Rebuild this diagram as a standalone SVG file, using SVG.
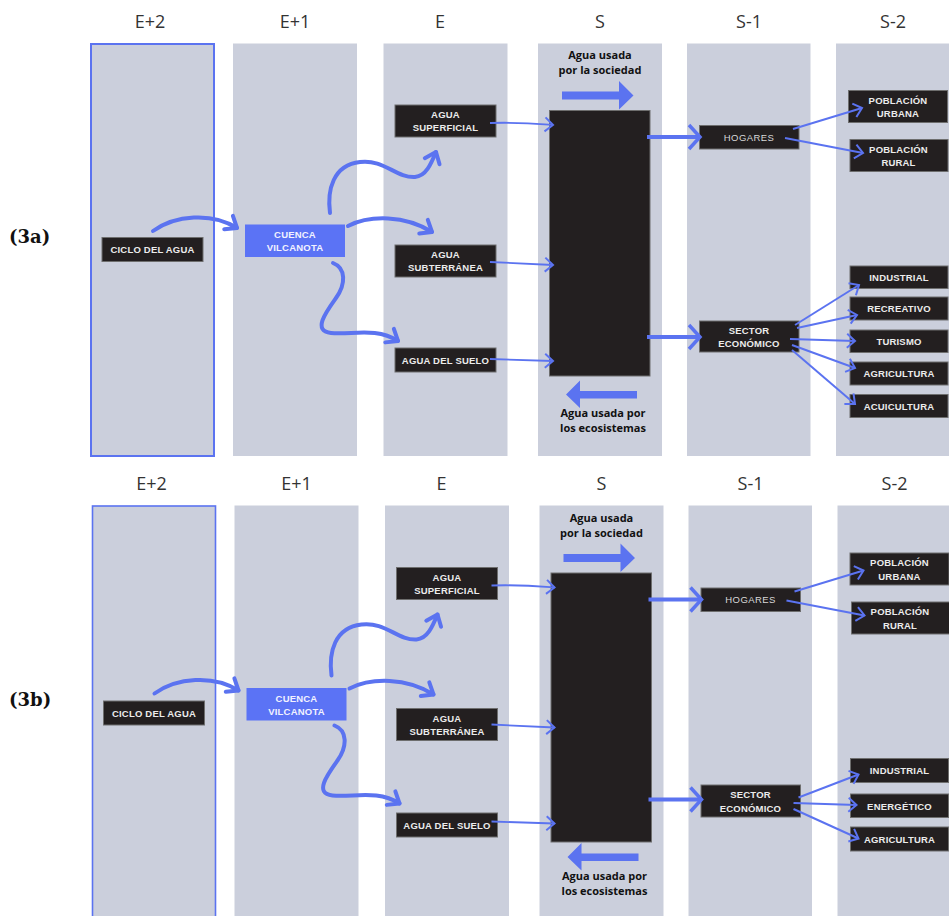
<svg xmlns="http://www.w3.org/2000/svg" width="949" height="916" viewBox="0 0 949 916">
<style>
.col{fill:#cbcfdc}
.hdr{font-family:"Open Sans","Noto Sans","Liberation Sans",sans-serif;font-size:18px;fill:#333;text-anchor:middle}
.lbl{font-family:"DejaVu Serif","Liberation Serif",serif;font-size:18px;font-weight:bold;fill:#111}
.box{fill:#231f20;stroke:#6e6e6e;stroke-width:1}
.blue{fill:#5b73f5}
.t{font-family:"Liberation Sans",Arial,sans-serif;font-size:9.5px;font-weight:bold;fill:#ececec;text-anchor:middle;letter-spacing:0.2px}
.tr{font-family:"Liberation Sans",Arial,sans-serif;font-size:9.5px;fill:#d8d8d8;text-anchor:middle;letter-spacing:0.4px}
.tw{font-family:"Liberation Sans",Arial,sans-serif;font-size:9.5px;font-weight:bold;fill:#f2f2ff;text-anchor:middle;letter-spacing:0.2px}
.note{font-family:"Open Sans","Noto Sans",sans-serif;font-size:11px;font-weight:bold;fill:#111;text-anchor:middle}
.thin{fill:none;stroke:#5b73f0;stroke-width:1.8;marker-end:url(#chevS)}
.mid{fill:none;stroke:#5b73f0;stroke-width:2;marker-end:url(#chevS)}
.thick{fill:none;stroke:#5b73f0;stroke-width:4;marker-end:url(#chevL)}
.curve{fill:none;stroke:#5b73f0;stroke-width:4;stroke-linecap:round;marker-end:url(#chevC)}
.big{fill:#5b73f0}
</style>
<defs>
<marker id="chevS" viewBox="0 0 10 16" refX="9" refY="8" markerWidth="10" markerHeight="16" markerUnits="userSpaceOnUse" orient="auto" overflow="visible">
<path d="M1,1 L9,8 L1,15" fill="none" stroke="#5b73f0" stroke-width="2" stroke-linejoin="miter"/>
</marker>
<marker id="chevL" viewBox="0 0 14 26" refX="12" refY="13" markerWidth="14" markerHeight="26" markerUnits="userSpaceOnUse" orient="auto" overflow="visible">
<path d="M1,1 L12,13 L1,25" fill="none" stroke="#5b73f0" stroke-width="3.5"/>
</marker>
<marker id="chevC" viewBox="0 0 14 20" refX="12" refY="10" markerWidth="14" markerHeight="20" markerUnits="userSpaceOnUse" orient="auto" overflow="visible">
<path d="M2,2 L12,10 L2,18" fill="none" stroke="#5b73f0" stroke-width="4" stroke-linecap="round" stroke-linejoin="round"/>
</marker>
</defs>
<rect width="949" height="916" fill="#fff"/>

<!-- Panel 3a -->
<g id="panel-3a">
<g id="a-columns">
<rect class="col" x="91" y="44" width="123" height="412" stroke="#5b73f0" stroke-width="2"/>
<rect class="col" x="233" y="43.5" width="124" height="412.5"/>
<rect class="col" x="383.5" y="43.5" width="124" height="412.5"/>
<rect class="col" x="538" y="43.5" width="124" height="412.5"/>
<rect class="col" x="687" y="43.5" width="123.5" height="412.5"/>
<rect class="col" x="836" y="43.5" width="113" height="412.5"/>
</g>
<g id="a-headers">
<text class="hdr" x="150" y="28">E+2</text>
<text class="hdr" x="295" y="28">E+1</text>
<text class="hdr" x="440" y="28">E</text>
<text class="hdr" x="600" y="28">S</text>
<text class="hdr" x="749" y="28">S-1</text>
<text class="hdr" x="893" y="28">S-2</text>
</g>
<text class="lbl" x="9" y="243">(3a)</text>
<g id="a-notes">
<text class="note" x="600" y="59">Agua usada</text>
<text class="note" x="600" y="74">por la sociedad</text>
<polygon class="big" points="562,91.5 619,91.5 619,81 633.5,95.5 619,109.5 619,99.5 562,99.5"/>
<polygon class="big" points="637,391 580,391 580,380.5 566,394.5 580,408 580,398.5 637,398.5"/>
<text class="note" x="603" y="417">Agua usada por</text>
<text class="note" x="603" y="432">los ecosistemas</text>
</g>
<g id="a-ciclo"><rect class="box" x="102" y="237.5" width="101" height="24"/><text class="t" x="152.5" y="253">CICLO DEL AGUA</text></g>
<g id="a-cuenca"><rect class="blue" x="245" y="224.5" width="100" height="32.5"/><text class="tw" x="295" y="238">CUENCA</text><text class="tw" x="295" y="251">VILCANOTA</text></g>
<g id="a-superficial"><rect class="box" x="395" y="105" width="101" height="32"/><text class="t" x="445.5" y="118">AGUA</text><text class="t" x="445.5" y="131">SUPERFICIAL</text></g>
<g id="a-subterranea"><rect class="box" x="395" y="245" width="101" height="32"/><text class="t" x="445.5" y="258">AGUA</text><text class="t" x="445.5" y="271">SUBTERRÁNEA</text></g>
<g id="a-suelo"><rect class="box" x="395" y="348" width="101" height="24"/><text class="t" x="445.5" y="363.5">AGUA DEL SUELO</text></g>
<g id="a-s"><rect class="box" x="549.5" y="110.5" width="100.5" height="265.5"/></g>
<g id="a-hogares"><rect class="box" x="699.5" y="125.5" width="99.5" height="23.5"/><text class="tr" x="749" y="140.5">HOGARES</text></g>
<g id="a-sector"><rect class="box" x="699.5" y="321" width="99.5" height="31"/><text class="t" x="749" y="333.5">SECTOR</text><text class="t" x="749" y="347">ECONÓMICO</text></g>
<g id="a-urbana"><rect class="box" x="848.5" y="90.5" width="99" height="32"/><text class="t" x="898" y="103.5">POBLACIÓN</text><text class="t" x="898" y="117">URBANA</text></g>
<g id="a-rural"><rect class="box" x="850" y="139.5" width="98" height="32"/><text class="t" x="898.5" y="152.5">POBLACIÓN</text><text class="t" x="898.5" y="166">RURAL</text></g>
<g id="a-industrial"><rect class="box" x="850" y="266" width="98" height="22.5"/><text class="t" x="899" y="281">INDUSTRIAL</text></g>
<g id="a-recreativo"><rect class="box" x="850" y="297" width="98" height="23"/><text class="t" x="899" y="312">RECREATIVO</text></g>
<g id="a-turismo"><rect class="box" x="850" y="330" width="98" height="22.5"/><text class="t" x="899" y="345">TURISMO</text></g>
<g id="a-agricultura"><rect class="box" x="850" y="362" width="98" height="23"/><text class="t" x="899" y="377">AGRICULTURA</text></g>
<g id="a-acuicultura"><rect class="box" x="850" y="394.5" width="98" height="23"/><text class="t" x="899" y="409.5">ACUICULTURA</text></g>
<g id="a-connectors">
<path class="curve" d="M153,231 C175,215 212,212 237,228"/>
<path class="curve" d="M330,213 C327,190 333,165 360,162 C384,159 396,178 415,177 C426,176 431,164 436,152"/>
<path class="curve" d="M348,226 C370,215 405,215 432,232"/>
<path class="curve" d="M333,263 C346,268 346,284 336,298 C326,312 312,331 331,333 C352,335 376,327 398,341"/>
<path class="thin" d="M490,123 C520,122 540,124 553,125"/>
<path class="thin" d="M490,262 L553,265"/>
<path class="thin" d="M490,359 L553,361"/>
<path class="thick" d="M647,137 L700,137"/>
<path class="thick" d="M647,337 L700,337"/>
<path class="mid" d="M793,129 L862,108"/>
<path class="mid" d="M785,138 L863,153"/>
<path class="mid" d="M795,325 L859,285"/>
<path class="mid" d="M797,328 L857,315"/>
<path class="mid" d="M790,339 L855,341"/>
<path class="mid" d="M792,345 L855,368"/>
<path class="mid" d="M792,350 L855,404"/>
</g>
</g>

<!-- Panel 3b -->
<g id="panel-3b" transform="translate(1.5,462.5)">
<g id="b-columns">
<rect class="col" x="91" y="43.5" width="123" height="420" stroke="#5b73f0" stroke-width="1.6"/>
<rect class="col" x="233" y="43" width="124" height="420"/>
<rect class="col" x="383.5" y="43" width="124" height="420"/>
<rect class="col" x="538" y="43" width="124" height="420"/>
<rect class="col" x="687" y="43" width="123.5" height="420"/>
<rect class="col" x="836" y="43" width="113" height="420"/>
</g>
<g id="b-headers">
<text class="hdr" x="150" y="27">E+2</text>
<text class="hdr" x="295" y="27">E+1</text>
<text class="hdr" x="440" y="27">E</text>
<text class="hdr" x="600" y="27">S</text>
<text class="hdr" x="749" y="27">S-1</text>
<text class="hdr" x="893" y="27">S-2</text>
</g>
<text class="lbl" x="7.5" y="243">(3b)</text>
<g id="b-notes">
<text class="note" x="600" y="59">Agua usada</text>
<text class="note" x="600" y="74">por la sociedad</text>
<polygon class="big" points="562,91.5 619,91.5 619,81 633.5,95.5 619,109.5 619,99.5 562,99.5"/>
<polygon class="big" points="637,391 580,391 580,380.5 566,394.5 580,408 580,398.5 637,398.5"/>
<text class="note" x="603" y="417">Agua usada por</text>
<text class="note" x="603" y="432">los ecosistemas</text>
</g>
<g id="b-ciclo"><rect class="box" x="102" y="238.5" width="101" height="24"/><text class="t" x="152.5" y="254">CICLO DEL AGUA</text></g>
<g id="b-cuenca"><rect class="blue" x="245" y="225.5" width="100" height="32.5"/><text class="tw" x="295" y="239">CUENCA</text><text class="tw" x="295" y="252">VILCANOTA</text></g>
<g id="b-superficial"><rect class="box" x="395" y="105" width="101" height="32"/><text class="t" x="445.5" y="118">AGUA</text><text class="t" x="445.5" y="131">SUPERFICIAL</text></g>
<g id="b-subterranea"><rect class="box" x="395" y="246" width="101" height="32"/><text class="t" x="445.5" y="259">AGUA</text><text class="t" x="445.5" y="272">SUBTERRÁNEA</text></g>
<g id="b-suelo"><rect class="box" x="395" y="350.5" width="101" height="24"/><text class="t" x="445.5" y="366">AGUA DEL SUELO</text></g>
<g id="b-s"><rect class="box" x="549.5" y="110.5" width="100.5" height="269"/></g>
<g id="b-hogares"><rect class="box" x="699.5" y="125.5" width="99.5" height="23.5"/><text class="tr" x="749" y="140.5">HOGARES</text></g>
<g id="b-sector"><rect class="box" x="699.5" y="322.5" width="99.5" height="32"/><text class="t" x="749" y="335.5">SECTOR</text><text class="t" x="749" y="349">ECONÓMICO</text></g>
<g id="b-urbana"><rect class="box" x="848.5" y="90.5" width="99" height="32"/><text class="t" x="898" y="103.5">POBLACIÓN</text><text class="t" x="898" y="117">URBANA</text></g>
<g id="b-rural"><rect class="box" x="850" y="139.5" width="98" height="32"/><text class="t" x="898.5" y="152.5">POBLACIÓN</text><text class="t" x="898.5" y="166">RURAL</text></g>
<g id="b-industrial"><rect class="box" x="849" y="296" width="98" height="24"/><text class="t" x="898" y="311.5">INDUSTRIAL</text></g>
<g id="b-energetico"><rect class="box" x="849" y="331.5" width="98" height="23.5"/><text class="t" x="898" y="347">ENERGÉTICO</text></g>
<g id="b-agricultura"><rect class="box" x="849" y="364.5" width="98" height="24"/><text class="t" x="898" y="380">AGRICULTURA</text></g>
<g id="b-connectors">
<path class="curve" d="M153,231 C175,215 212,212 237,228"/>
<path class="curve" d="M330,213 C327,190 333,165 360,162 C384,159 396,178 415,177 C426,176 431,164 436,152"/>
<path class="curve" d="M348,226 C370,215 405,215 432,232"/>
<path class="curve" d="M333,263 C346,268 346,284 336,298 C326,312 312,331 331,333 C352,335 376,327 398,341"/>
<path class="thin" d="M490,123 C520,122 540,124 553,125"/>
<path class="thin" d="M490,262 L553,265"/>
<path class="thin" d="M490,359 L553,361"/>
<path class="thick" d="M647,137 L700,137"/>
<path class="thick" d="M647,337 L700,337"/>
<path class="mid" d="M793,129 L862,108"/>
<path class="mid" d="M785,138 L863,153"/>
<path class="mid" d="M797,335 L857,312"/>
<path class="mid" d="M792,340.5 L855,342.5"/>
<path class="mid" d="M792,346.5 L857,376"/>
</g>
</g>
</svg>
